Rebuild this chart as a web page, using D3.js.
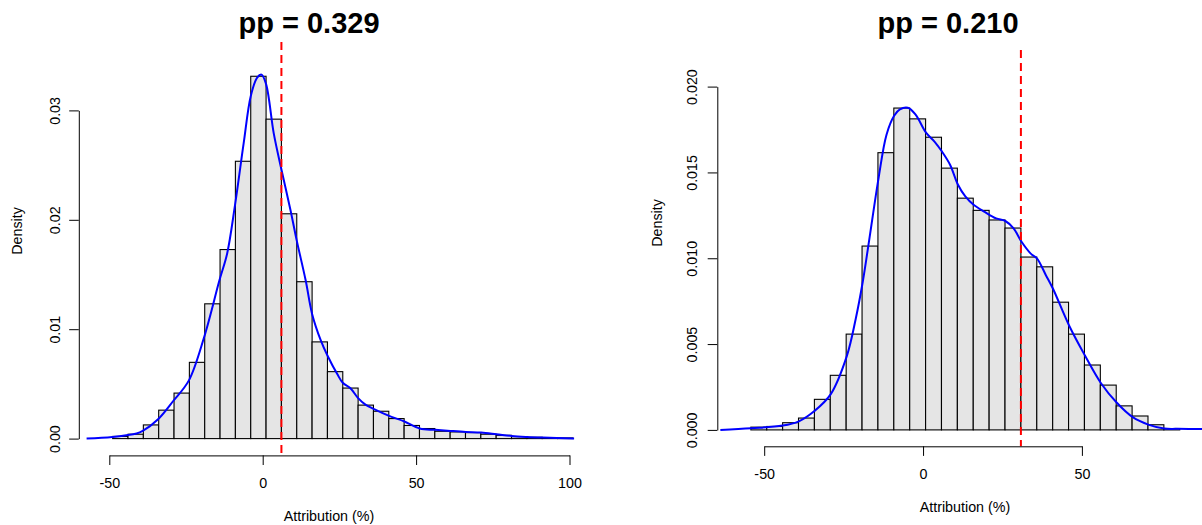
<!DOCTYPE html>
<html>
<head>
<meta charset="utf-8">
<style>
  body { margin: 0; background: #fff; }
  svg { display: block; }
</style>
</head>
<body>
<div class="charts"></div>
<script src="https://d3js.org/d3.v7.min.js"></script>
<script>
  // ---- left panel data ----
  const leftTitle = "pp = 0.329";
  const leftThreshold = 6.1;
  const leftXTicks = [-50, 0, 50, 100];
  const leftYTicks = [0, 0.01, 0.02, 0.03];
  const leftBinStart = [-48.9, -43.9, -38.9, -33.9, -28.9, -23.9, -18.9, -13.9, -8.9, -3.9,
                        1.1, 6.1, 11.1, 16.1, 21.1, 26.1, 31.1, 36.1, 41.1, 46.1,
                        51.1, 56.1, 61.1, 66.1, 71.1, 76.1, 81.1, 86.1, 91.1, 96.1];
  const leftBinDensity = [0.0002, 0.0004, 0.00125, 0.0026, 0.00416, 0.00697, 0.01232, 0.01728, 0.02535, 0.03312,
                          0.0292, 0.02055, 0.01434, 0.00884, 0.00612, 0.00462, 0.00306, 0.0025, 0.00183, 0.0012,
                          0.00092, 0.00067, 0.00061, 0.00055, 0.0004, 0.0003, 0.00018, 0.00012, 0.00009, 0.00006];
  const leftCurveX = [-57.4, -49, -41.1, -39.1, -34.1, -29.1, -24.1, -19.1, -14.1, -11.6, -9.1, -6.2, -3.9, -1.8, -0.4,
                      1.1, 3.6, 6.1, 9.05, 11.1, 14.0, 16.1, 18.9, 21.1, 24.3, 26.1, 28.6, 31.1, 33.5, 36.3,
                      41.2, 46.2, 51.2, 56.2, 61.2, 66.2, 71.2, 76.2, 81.2, 86.2, 91.2, 101.5];
  const leftCurveY = [0, 0.00015, 0.00046, 0.0007, 0.00177, 0.00346, 0.0053, 0.00927, 0.01447, 0.0169, 0.0212, 0.027, 0.0313, 0.033, 0.03327,
                      0.0324, 0.0279, 0.0246, 0.0209, 0.0181, 0.01447, 0.0114, 0.009, 0.0076, 0.0059, 0.0051, 0.0046, 0.0037, 0.0031, 0.0027,
                      0.00208, 0.00156, 0.00092, 0.0008, 0.0007, 0.00061, 0.00055, 0.0004, 0.00024, 0.00015, 0.00009, 0];

  // ---- right panel data ----
  const rightTitle = "pp = 0.210";
  const rightThreshold = 30.8;
  const rightXTicks = [-50, 0, 50];
  const rightYTicks = [0, 0.005, 0.01, 0.015, 0.02];
  const rightBinStart = [-54.2, -49.2, -44.2, -39.2, -34.2, -29.2, -24.2, -19.2, -14.2, -9.2,
                         -4.2, 0.8, 5.8, 10.8, 15.8, 20.8, 25.8, 30.8, 35.8, 40.8,
                         45.8, 50.8, 55.8, 60.8, 65.8, 70.8, 75.8];
  const rightBinDensity = [0.00016, 0.0002, 0.00042, 0.00069, 0.00178, 0.00318, 0.00558, 0.01071, 0.01615, 0.01875,
                           0.01812, 0.01705, 0.01525, 0.0135, 0.01279, 0.01223, 0.01176, 0.01007, 0.0095, 0.00744,
                           0.00558, 0.00378, 0.00261, 0.0014, 0.00081, 0.0003, 0.00008];
  const rightCurveX = [-63.8, -54.1, -44.2, -39.1, -34.2, -29.1, -24.0, -21.2, -19.0, -17.0, -14.0, -11.5, -9.1, -7.3, -4.8,
                       -2.4, 1.0, 3.6, 5.9, 8.5, 11.0, 13.3, 16.0, 19.4, 23.0, 25.9, 28.5, 31.0, 33.9, 35.9,
                       38.7, 40.9, 46.0, 51.0, 55.9, 61.0, 66.0, 70.9, 75.9, 79.9, 87.2, 92.0];
  const rightCurveY = [0, 0.0001, 0.00025, 0.0005, 0.0011, 0.00207, 0.0043, 0.00646, 0.0086, 0.011, 0.01467, 0.0172, 0.0183, 0.01867, 0.01877,
                       0.01838, 0.0173, 0.0168, 0.01623, 0.01545, 0.01428, 0.0136, 0.0131, 0.0127, 0.01232, 0.01217, 0.01174, 0.01096, 0.01027, 0.00998,
                       0.009, 0.00822, 0.00607, 0.00432, 0.00275, 0.00158, 0.00074, 0.00031, 0.00008, 0.00006, 0.00005, 0.00004];

  const binWidth = 5;
  const font = '"Liberation Sans", Arial, Helvetica, sans-serif';
  const fs = 14.3;

  const svg = d3.select('.charts')
                .append('svg')
                .attr('width', 1202)
                .attr('height', 525)
                .attr('font-family', font);

  svg.append('rect').attr('width', 1202).attr('height', 525).attr('fill', '#fff');

  function histPanel(opt){
    const g = svg.append('g');

    const xScale = d3.scaleLinear()
                     .domain(d3.extent(opt.xTicks))
                     .range(opt.xRange);
    const yScale = d3.scaleLinear()
                     .domain(d3.extent(opt.yTicks))
                     .range(opt.yRange);

    const bins = opt.binStart.map((s, i) => ({start: s, density: opt.binDensity[i]}));

    // bars
    g.append('g')
     .selectAll('rect')
     .data(bins)
     .join('rect')
     .attr('x', d => xScale(d.start))
     .attr('width', d => xScale(d.start + binWidth) - xScale(d.start))
     .attr('y', d => yScale(d.density))
     .attr('height', d => yScale(0) - yScale(d.density))
     .attr('fill', '#e5e5e5')
     .attr('stroke', '#000')
     .attr('stroke-width', 1.1);

    // density curve
    const pts = opt.curveX.map((v, i) => [v, opt.curveY[i]]);
    const line = d3.line()
                   .x(d => xScale(d[0]))
                   .y(d => yScale(d[1]))
                   .curve(d3.curveCatmullRom.alpha(0.5));
    g.append('path')
     .attr('d', line(pts))
     .attr('fill', 'none')
     .attr('stroke', '#0000ff')
     .attr('stroke-width', 2);

    // threshold
    g.append('line')
     .attr('x1', xScale(opt.threshold)).attr('x2', xScale(opt.threshold))
     .attr('y1', opt.plotTop).attr('y2', opt.xAxisY)
     .attr('stroke', '#ff0000')
     .attr('stroke-width', 2)
     .attr('stroke-dasharray', '8,5');

    // x axis (plain hyphen for negatives, like R)
    const xAxis = d3.axisBottom(xScale)
                    .tickValues(opt.xTicks)
                    .tickSize(9.6)
                    .tickSizeOuter(0)
                    .tickFormat(d => String(d));
    const xg = g.append('g')
                .attr('transform', `translate(0,${opt.xAxisY})`)
                .call(xAxis)
                .attr('font-family', font)
                .attr('font-size', fs);
    xg.selectAll('text').attr('y', 32.6).attr('dy', 0).attr('fill', '#000');
    xg.selectAll('line, path').attr('stroke', '#000');

    // y axis
    const yAxis = d3.axisLeft(yScale)
                    .tickValues(opt.yTicks)
                    .tickSize(9.6)
                    .tickSizeOuter(0)
                    .tickFormat(d => d.toFixed(opt.yDigits));
    const yg = g.append('g')
                .attr('transform', `translate(${opt.yAxisX},0)`)
                .call(yAxis)
                .attr('font-family', font)
                .attr('font-size', fs);
    yg.selectAll('text')
      .attr('transform', 'rotate(-90)')
      .attr('x', 0)
      .attr('y', -opt.yLabelGap)
      .attr('dy', 0)
      .attr('text-anchor', 'middle')
      .attr('fill', '#000');
    yg.selectAll('line, path').attr('stroke', '#000');

    // titles
    g.append('text')
     .attr('x', opt.titleX).attr('y', 33)
     .attr('text-anchor', 'middle')
     .attr('font-weight', 'bold')
     .attr('font-size', 29)
     .text(opt.title);

    g.append('text')
     .attr('x', opt.xLabelX).attr('y', opt.xLabelY)
     .attr('text-anchor', 'middle')
     .attr('font-size', fs)
     .text('Attribution (%)');

    g.append('text')
     .attr('transform', `translate(${opt.yLabelX},${opt.yLabelY}) rotate(-90)`)
     .attr('text-anchor', 'middle')
     .attr('font-size', fs)
     .text('Density');
  }

  histPanel({
    title: leftTitle, threshold: leftThreshold,
    xTicks: leftXTicks, yTicks: leftYTicks, yDigits: 2,
    binStart: leftBinStart, binDensity: leftBinDensity,
    curveX: leftCurveX, curveY: leftCurveY,
    xRange: [109.3, 569.5], yRange: [438.6, 110.4],
    xAxisY: 455.4, yAxisX: 78.8, yLabelGap: 19, plotTop: 42,
    titleX: 309, xLabelX: 329, xLabelY: 521, yLabelX: 22, yLabelY: 231
  });

  histPanel({
    title: rightTitle, threshold: rightThreshold,
    xTicks: rightXTicks, yTicks: rightYTicks, yDigits: 3,
    binStart: rightBinStart, binDensity: rightBinDensity,
    curveX: rightCurveX, curveY: rightCurveY,
    xRange: [764.2, 1081.9], yRange: [429.9, 86.6],
    xAxisY: 446.3, yAxisX: 717.3, yLabelGap: 20, plotTop: 50,
    titleX: 948, xLabelX: 965, xLabelY: 512, yLabelX: 662, yLabelY: 223
  });
</script>
</body>
</html>
